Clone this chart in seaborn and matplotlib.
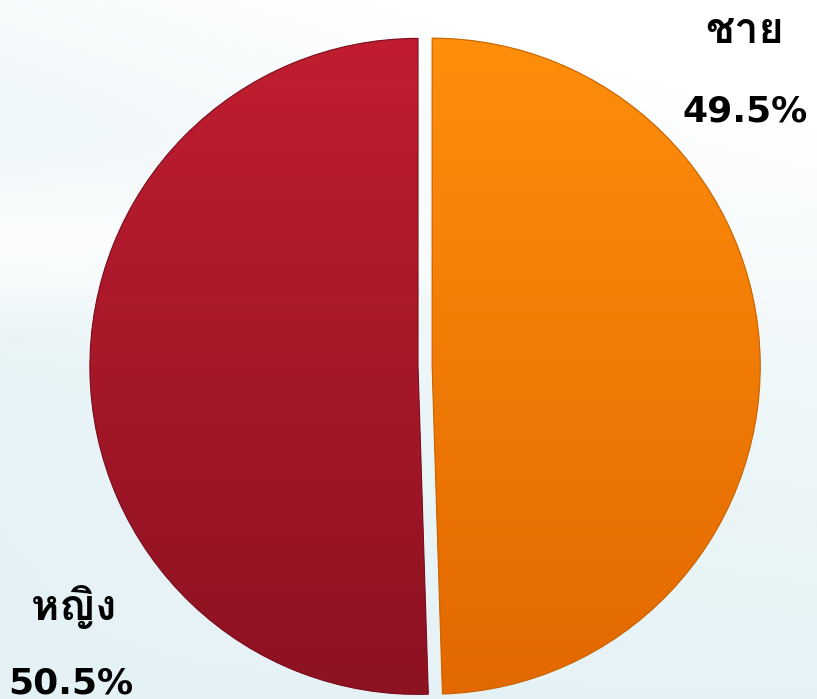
import matplotlib
matplotlib.use("Agg")
import matplotlib.pyplot as plt
import numpy as np
import seaborn as sns
from matplotlib import font_manager
from matplotlib.colors import LinearSegmentedColormap
from matplotlib.ft2font import FT2Font

# data
labels = ["ชาย", "หญิง"]
shares = [49.5, 50.5]
pct_labels = ["49.5%", "50.5%"]
top_colors = ["#FF8E0C", "#C01E30"]
bottom_colors = ["#E26800", "#8C1222"]
edge_colors = ["#C86400", "#7A1020"]


def thai_font() -> str:
    # first installed family that has Thai glyphs
    for entry in font_manager.fontManager.ttflist:
        try:
            if FT2Font(entry.fname).get_char_index(ord("ช")):
                return entry.name
        except Exception:
            continue
    return "DejaVu Sans"


sns.set_theme(style="white")
plt.rcParams["font.family"] = ["DejaVu Sans"]
THAI = thai_font()

fig = plt.figure(figsize=(8.17, 6.99), dpi=100)

# background wash
bg = fig.add_axes([0, 0, 1, 1], zorder=0)
yy, xx = np.mgrid[0:1:300j, 0:1:350j]
light = 0.55 + 0.35 * (1 - yy) * xx + 0.3 * np.exp(-((yy - 0.35) ** 2) / 0.01) * (1 - xx) + 0.3 * (1 - yy) ** 3
light = np.clip(light, 0, 1)
base = np.array([0.78, 0.89, 0.92])
img = base + (1 - base) * light[..., None]
bg.imshow(img, extent=[0, 1, 0, 1], aspect="auto", origin="upper")
bg.axis("off")

ax = fig.add_axes([0, 0, 1, 1], zorder=1)
ax.patch.set_alpha(0)
wedges, _ = ax.pie(
    shares,
    startangle=90,
    counterclock=False,
    explode=[0.043, 0],
    colors=top_colors,
    wedgeprops=dict(linewidth=0),
)

grad = np.linspace(1, 0, 256).reshape(-1, 1)
for w, top, bottom in zip(wedges, top_colors, bottom_colors):
    cmap = LinearSegmentedColormap.from_list("g", [bottom, top])
    im = ax.imshow(grad, cmap=cmap, extent=[-1.1, 1.2, -1.0, 1.0], origin="upper", aspect="auto", zorder=2)
    im.set_clip_path(w)

ax.pie(
    shares,
    startangle=90,
    counterclock=False,
    explode=[0.043, 0],
    wedgeprops=dict(fill=False, linewidth=0.8, zorder=3),
)
for w, ec in zip(ax.patches[2:], edge_colors):
    w.set_edgecolor(ec)

ax.set_aspect("auto")
ax.set_xlim(-1.274, 1.216)
ax.set_ylim(-1.014, 1.117)
ax.axis("off")

# labels
thai_kw = dict(ha="center", va="center", fontsize=31, fontweight="bold", color="black", family=[THAI, "DejaVu Sans"])
pct_kw = dict(ha="center", va="center", fontsize=26, fontweight="bold", color="black", family=["DejaVu Sans"])
fig.text(0.912, 0.955, labels[0], **thai_kw)
fig.text(0.912, 0.840, pct_labels[0], **pct_kw)
fig.text(0.090, 0.132, labels[1], **thai_kw)
fig.text(0.086, 0.022, pct_labels[1], **pct_kw)

fig.savefig("out.png", dpi=100)
